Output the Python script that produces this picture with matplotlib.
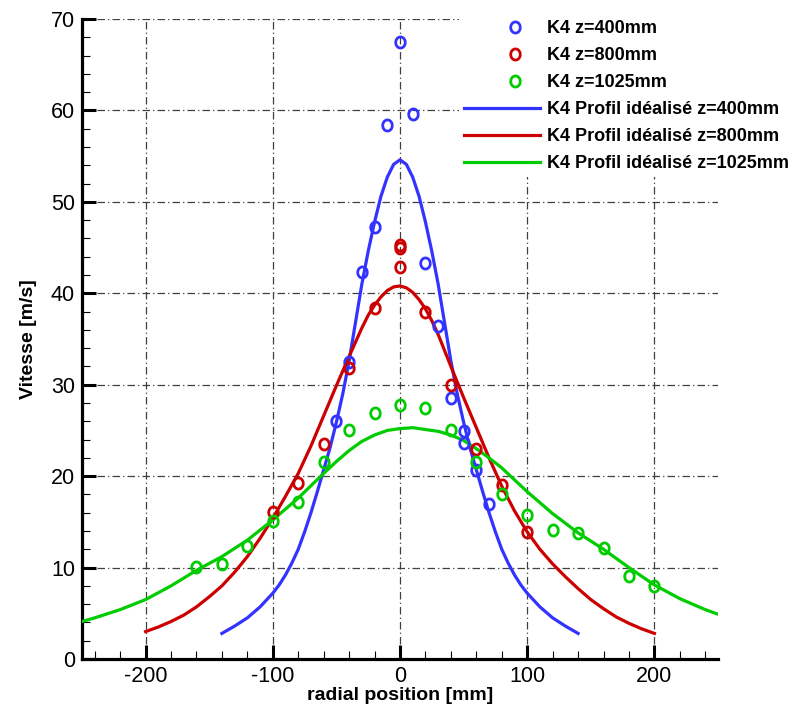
import numpy as np
import matplotlib.pyplot as plt
from matplotlib.ticker import MultipleLocator
from matplotlib.lines import Line2D
from matplotlib.legend_handler import HandlerLine2D

plt.rcParams["font.family"] = ["Liberation Sans", "DejaVu Sans"]
plt.rcParams["axes.unicode_minus"] = False

# measured points (K4)
z400_x = [-50, -40, -30, -20, -10, 0, 10, 20, 30, 40, 50, 50, 60, 70]
z400_y = [26.0, 32.5, 42.3, 47.3, 58.4, 67.5, 59.6, 43.3, 36.4, 28.6, 24.9, 23.6, 20.7, 17.0]

z800_x = [-100, -80, -60, -40, -20, 0, 0, 0, 20, 40, 60, 80, 100]
z800_y = [16.1, 19.2, 23.5, 31.8, 38.4, 45.3, 44.9, 42.9, 37.9, 30.0, 23.0, 19.0, 13.9]

z1025_x = [-160, -140, -120, -100, -80, -60, -40, -20, 0, 20, 40, 60, 80, 100,
           120, 140, 160, 180, 200]
z1025_y = [10.1, 10.4, 12.4, 15.1, 17.2, 21.5, 25.0, 26.9, 27.8, 27.4, 25.0, 21.6,
           18.0, 15.7, 14.1, 13.8, 12.1, 9.1, 8.0]

# idealised profiles
prof400_x = [-140, -130, -120, -110, -100, -95, -90, -85, -80, -75, -70, -65, -60,
             -55, -50, -45, -40, -35, -30, -25, -20, -15, -10, -5, 0, 5, 10, 15, 20,
             25, 30, 35, 40, 45, 50, 55, 60, 65, 70, 75, 80, 85, 90, 95, 100, 110,
             120, 130, 140]
prof400_y = [2.8, 3.6, 4.5, 5.7, 7.2, 8.1, 9.2, 10.5, 12.0, 13.9, 16.0, 18.3, 20.7,
             23.1, 25.9, 29.0, 32.6, 36.8, 41.0, 44.6, 47.8, 50.6, 52.7, 54.1, 54.6,
             54.1, 52.7, 50.6, 47.8, 44.6, 41.0, 36.8, 32.6, 29.0, 25.9, 23.1, 20.7,
             18.3, 16.0, 13.9, 12.0, 10.5, 9.2, 8.1, 7.2, 5.7, 4.5, 3.6, 2.8]

prof800_x = [-200, -190, -180, -170, -160, -150, -140, -130, -120, -110, -100, -90,
             -80, -70, -60, -50, -40, -30, -25, -20, -15, -10, -5, 0, 5, 10, 15, 20,
             25, 30, 40, 50, 60, 70, 80, 90, 100, 110, 120, 130, 140, 150, 160, 170,
             180, 190, 200]
prof800_y = [3.0, 3.5, 4.1, 4.8, 5.7, 6.8, 8.0, 9.5, 11.2, 13.2, 15.4, 17.8, 20.3,
             23.3, 26.6, 29.9, 33.1, 36.2, 37.6, 38.7, 39.6, 40.3, 40.7, 40.8, 40.6,
             40.1, 39.3, 38.3, 37.0, 35.5, 32.0, 28.6, 25.3, 22.0, 18.9, 16.2, 13.9,
             12.0, 10.4, 9.0, 7.7, 6.5, 5.5, 4.6, 3.9, 3.3, 2.8]

prof1025_x = [-250, -240, -220, -200, -180, -160, -140, -120, -100, -80, -60, -50,
              -40, -30, -20, -10, 0, 10, 20, 30, 40, 50, 60, 70, 80, 90, 100, 120,
              140, 160, 180, 200, 220, 240, 250]
prof1025_y = [4.1, 4.5, 5.4, 6.5, 8.0, 9.7, 11.2, 13.0, 15.2, 17.6, 20.3, 21.6,
              22.8, 23.8, 24.5, 25.0, 25.2, 25.3, 25.1, 24.9, 24.5, 23.9, 23.0, 22.0,
              20.9, 19.6, 18.3, 15.9, 13.8, 12.0, 10.0, 8.1, 6.6, 5.4, 4.9]

labels = ["K4 z=400mm", "K4 z=800mm", "K4 z=1025mm",
          "K4 Profil idéalisé z=400mm", "K4 Profil idéalisé z=800mm",
          "K4 Profil idéalisé z=1025mm"]

blue, red, green = "#3333ff", "#cc0000", "#00cc00"

# slightly tall "o" like the original symbols
t = np.linspace(0, 2 * np.pi, 41)
oval = np.column_stack([0.86 * np.cos(t), np.sin(t)])


class RightMarker(HandlerLine2D):
    """Put the single legend symbol a bit right of the handle centre."""

    def get_xdata(self, legend, xdescent, ydescent, width, height, fontsize):
        xdata = [-xdescent + 0.34 * width, -xdescent + width]
        return xdata, xdata


fig = plt.figure(figsize=(7.94, 7.10), dpi=100)
ax = fig.add_axes([82 / 794, 51 / 710, 636 / 794, 640 / 710])

for x, y, c in [(prof400_x, prof400_y, blue), (prof800_x, prof800_y, red),
                (prof1025_x, prof1025_y, green)]:
    ax.plot(x, y, color=c, lw=2.3, zorder=3)

for x, y, c in [(z400_x, z400_y, blue), (z800_x, z800_y, red),
                (z1025_x, z1025_y, green)]:
    ax.plot(x, y, ls="none", marker=oval, ms=8, mfc="none", mec=c, mew=2.0,
            zorder=4)

ax.set_xlim(-250, 250)
ax.set_ylim(0, 70)
ax.xaxis.set_major_locator(MultipleLocator(100))
ax.xaxis.set_minor_locator(MultipleLocator(20))
ax.yaxis.set_major_locator(MultipleLocator(10))
ax.yaxis.set_minor_locator(MultipleLocator(2))

ax.grid(True, which="major", color="0.25", linestyle=(0, (6, 2.5, 1, 2.5)),
        linewidth=0.9)
ax.set_axisbelow(True)

for s in ["top", "right"]:
    ax.spines[s].set_visible(False)
for s in ["left", "bottom"]:
    ax.spines[s].set_linewidth(2.3)

ax.tick_params(which="major", direction="in", length=10, width=2.2,
               labelsize=15.5, pad=5)
ax.tick_params(which="minor", direction="in", length=6, width=0.8)

ax.set_xlabel("radial position [mm]", fontsize=14, fontweight="bold", labelpad=0)
ax.set_ylabel("Vitesse [m/s]", fontsize=14, fontweight="bold", labelpad=10)

handles = [Line2D([], [], ls="none", marker=oval, ms=8, mfc="none", mec=c, mew=2.0)
           for c in (blue, red, green)]
handles += [Line2D([], [], color=c, lw=2.3) for c in (blue, red, green)]

ax.legend(handles, labels, loc="upper right", bbox_to_anchor=(1.0, 1 - 15 / 710),
          bbox_transform=fig.transFigure, prop=dict(weight="bold", size=13),
          frameon=True, facecolor="white", edgecolor="none", framealpha=1,
          fancybox=False, handlelength=4.2, handletextpad=0.35, labelspacing=0.55,
          borderpad=0.3, borderaxespad=0,
          handler_map={h: RightMarker() for h in handles[:3]})

fig.savefig("out.png", dpi=100)
